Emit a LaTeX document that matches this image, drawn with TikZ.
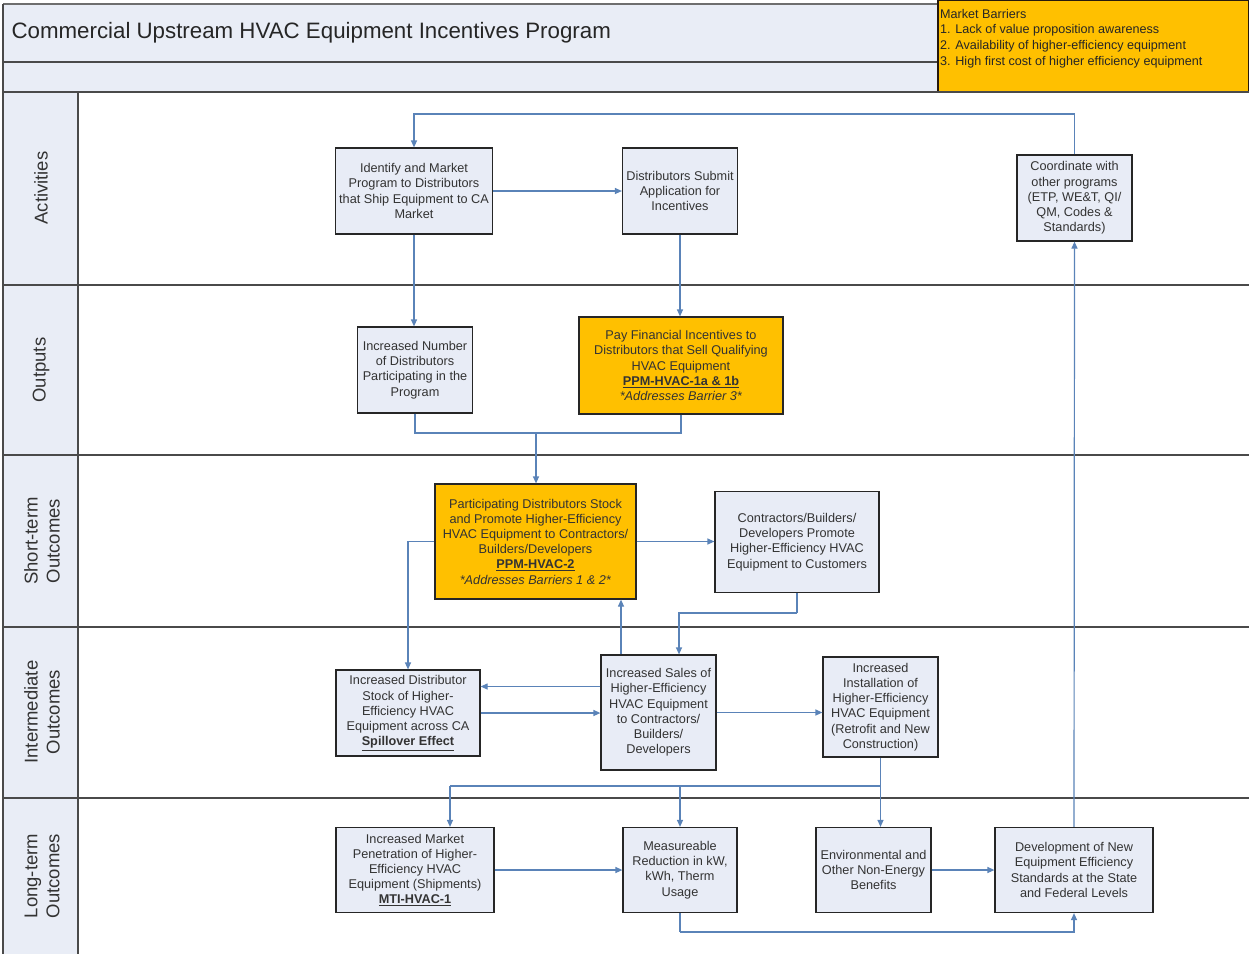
\documentclass[tikz,border=0pt]{standalone}
\usepackage{fontspec}
\setmainfont{Liberation Sans}
\usetikzlibrary{arrows.meta}
\definecolor{boxfill}{HTML}{E8ECF6}
\definecolor{headfill}{HTML}{E9EDF6}
\definecolor{barfill}{HTML}{FFC000}
\definecolor{connclr}{HTML}{5A83B8}
\definecolor{lanegray}{HTML}{4A4A4A}
\definecolor{txtgray}{HTML}{333333}
\newcommand\bxfont{\fontsize{12.7}{15.2}\selectfont}
\newcommand\lanefont{\fontsize{18.5}{22}\selectfont}
\tikzset{
  stepbox/.style={draw=black!85, line width=1.2pt, fill=boxfill, align=center,
    inner sep=0pt, font=\bxfont, text=txtgray},
  hotbox/.style={stepbox, fill=barfill},
  link/.style={draw=connclr, line width=1.2pt},
  flow/.style={link, -{Triangle[length=7pt,width=6pt]}},
  lanelabel/.style={rotate=90, align=center, font=\lanefont, text=txtgray},
  laneline/.style={draw=lanegray, line width=1.4pt}
}
\begin{document}
\begin{tikzpicture}[x=1pt,y=-1pt]
\useasboundingbox (0,0) rectangle (1249,954);
\fill[white] (0,0) rectangle (1249,954);

% header bands
\fill[headfill] (3,4) rectangle (937,92);
\draw[laneline, draw=lanegray!80] (3,4) -- (937,4);
\draw[laneline] (3,62) -- (937,62);
\node[anchor=west, font=\fontsize{22.3}{26}\selectfont, text=black!85] (title) at (8,33)
  {Commercial Upstream HVAC Equipment Incentives Program};

% market barriers panel
\draw[fill=barfill, draw=black!80!brown, line width=2pt] (938,0) rectangle (1249,92);
\node[anchor=north west, align=left, inner sep=0pt, font=\fontsize{12.6}{15.6}\selectfont, text=black!85]
  (barriers) at (940,9)
  {Market Barriers\\
   1. Lack of value proposition awareness\\
   2. Availability of higher-efficiency equipment\\
   3. High first cost of higher efficiency equipment};

% swim lanes
\fill[headfill] (3,92) rectangle (78,954);
\draw[laneline] (3,4) -- (3,954);
\draw[laneline] (78,92) -- (78,954);
\foreach \yy in {92,285,455,627,798}
  \draw[laneline] (3,\yy) -- (1249,\yy);

\node[lanelabel] (lact) at (41,188) {Activities};
\node[lanelabel] (lout) at (41,370) {Outputs};
\node[lanelabel] (lshort) at (42,541) {Short-term\\Outcomes};
\node[lanelabel] (linter) at (42,712) {Intermediate\\Outcomes};
\node[lanelabel] (llong) at (42,876) {Long-term\\Outcomes};

% activities
\node[stepbox, minimum width=157, minimum height=86] (identify) at (414,191)
  {Identify and Market\\Program to Distributors\\that Ship Equipment to CA\\Market};
\node[stepbox, minimum width=115, minimum height=86] (submit) at (680,191)
  {Distributors Submit\\Application for\\Incentives};
\node[stepbox, minimum width=115, minimum height=86] (coord) at (1074.5,198)
  {Coordinate with\\other programs\\(ETP, WE\&T, QI/\\QM, Codes \&\\Standards)};

% outputs
\node[stepbox, minimum width=115, minimum height=86] (incnum) at (415,370)
  {Increased Number\\of Distributors\\Participating in the\\Program};
\node[hotbox, minimum width=204, minimum height=97] (pay) at (681,365.5)
  {Pay Financial Incentives to\\Distributors that Sell Qualifying\\HVAC Equipment\\
   \underline{\textbf{PPM-HVAC-1a \& 1b}}\\\textit{*Addresses Barrier 3*}};

% short-term outcomes
\node[hotbox, minimum width=201, minimum height=115] (part) at (535.5,541.5)
  {Participating Distributors Stock\\and Promote Higher-Efficiency\\HVAC Equipment to Contractors/\\
   Builders/Developers\\\underline{\textbf{PPM-HVAC-2}}\\\textit{*Addresses Barriers 1 \& 2*}};
\node[stepbox, minimum width=164, minimum height=101] (contr) at (797,542)
  {Contractors/Builders/\\Developers Promote\\Higher-Efficiency HVAC\\Equipment to Customers};

% intermediate outcomes
\node[stepbox, minimum width=144, minimum height=86] (stock) at (408,713)
  {Increased Distributor\\Stock of Higher-\\Efficiency HVAC\\Equipment across CA\\
   \underline{\textbf{Spillover Effect}}};
\node[stepbox, minimum width=115, minimum height=115] (sales) at (658.5,712.5)
  {Increased Sales of\\Higher-Efficiency\\HVAC Equipment\\to Contractors/\\Builders/\\Developers};
\node[stepbox, minimum width=115, minimum height=100] (inst) at (880.5,707)
  {Increased\\Installation of\\Higher-Efficiency\\HVAC Equipment\\(Retrofit and New\\Construction)};

% long-term outcomes
\node[stepbox, minimum width=158, minimum height=85] (pen) at (415,870)
  {Increased Market\\Penetration of Higher-\\Efficiency HVAC\\Equipment (Shipments)\\
   \underline{\textbf{MTI-HVAC-1}}};
\node[stepbox, minimum width=114, minimum height=85] (meas) at (680,870)
  {Measureable\\Reduction in kW,\\kWh, Therm\\Usage};
\node[stepbox, minimum width=115, minimum height=85] (env) at (873.5,870)
  {Environmental and\\Other Non-Energy\\Benefits};
\node[stepbox, minimum width=158, minimum height=85] (dev) at (1074,870)
  {Development of New\\Equipment Efficiency\\Standards at the State\\and Federal Levels};

% junction points of the connectors
\coordinate (loop) at (1074.5,114);
\coordinate (merge) at (536,433);
\coordinate (contrdrop) at (797,613);
\coordinate (busR) at (880.5,786);
\coordinate (busL) at (450,786);
\coordinate (floor) at (680,932);

% activities flow
\draw[flow] (identify.east) -- (identify.east -| submit.west);
\draw[flow] (coord.north) -- (loop) -| (identify.north);
\draw[flow] (identify.south) -- (identify.south |- incnum.north);
\draw[flow] (submit.south) -- (submit.south |- pay.north);

% outputs into short-term outcomes
\draw[link] (incnum.south) |- (merge);
\draw[link] (pay.south) |- (merge);
\draw[flow] (merge) -- (merge |- part.north);

% short-term flow
\draw[flow] (part.east) -- (part.east -| contr.west);
\draw[flow] (part.west) -| (stock.north);
\draw[link] (contr.south) -- (contrdrop);
\draw[flow] (contrdrop) -| ([xshift=20.5pt]sales.north);
\draw[flow] ([xshift=-37.5pt]sales.north) -- ([xshift=-37.5pt]sales.north |- part.south);

% intermediate flow
\draw[flow] ([yshift=26pt]sales.west) -- ([yshift=26pt]sales.west -| stock.east);
\draw[flow] (stock.east) -- (stock.east -| sales.west);
\draw[flow] (sales.east) -- (sales.east -| inst.west);
\draw[link] (inst.south) -- (busR) -- (busL);
\draw[flow] (busL) -- (busL |- pen.north);
\draw[flow] (busL -| meas.north) -- (meas.north);
\draw[flow] (busR) -- (busR |- env.north);

% long-term flow
\draw[flow] (pen.east) -- (pen.east -| meas.west);
\draw[flow] (env.east) -- (env.east -| dev.west);
\draw[link] (meas.south) -- (floor);
\draw[flow] (floor) -| (dev.south);
\draw[flow] (dev.north) -- (coord.south);
\end{tikzpicture}
\end{document}
